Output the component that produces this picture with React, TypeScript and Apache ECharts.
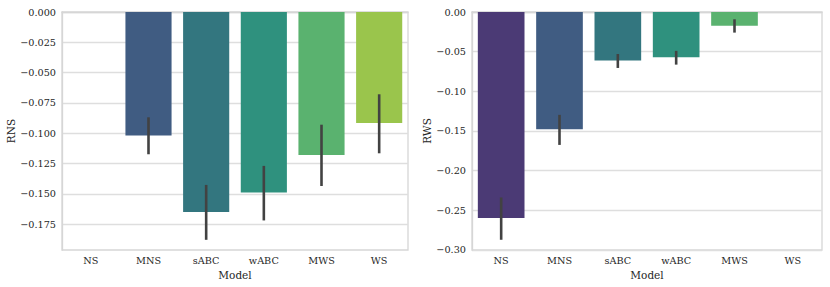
import React, { useEffect, useRef } from "react";
import * as echarts from "echarts";

const categories = ["NS", "MNS", "sABC", "wABC", "MWS", "WS"];
const colors = ["#4b3a75", "#405c82", "#33767f", "#2f917e", "#5ab26f", "#9ac54c"];

const rnsValues = [0, -0.102, -0.165, -0.149, -0.118, -0.0915];
const rnsLow = [0, -0.1174, -0.188, -0.172, -0.1436, -0.1166];
const rnsHigh = [0, -0.0869, -0.1427, -0.127, -0.093, -0.0679];

const rwsValues = [-0.26, -0.148, -0.0613, -0.0572, -0.0172, 0];
const rwsLow = [-0.2874, -0.1677, -0.0706, -0.0664, -0.026, 0];
const rwsHigh = [-0.234, -0.1298, -0.053, -0.049, -0.0092, 0];

const rnsTicks = [0, -0.025, -0.05, -0.075, -0.1, -0.125, -0.15, -0.175];
const rwsTicks = [0, -0.05, -0.1, -0.15, -0.2, -0.25, -0.3];

const FONT = "DejaVu Serif";
const TEXT = "#262626";

function fmt(v: number, d: number) {
  if (Math.abs(v) < 1e-9) return (0).toFixed(d);
  return (v < 0 ? "\u2212" : "") + Math.abs(v).toFixed(d);
}

export default function App() {
  const ref = useRef<HTMLDivElement>(null);
  useEffect(() => {
    document.body.style.margin = "0";
    const chart = echarts.init(ref.current!, null, { renderer: "svg" });
    const grids = [
      { left: 62, top: 12, width: 346, height: 238 },
      { left: 472, top: 12, width: 350, height: 238 },
    ];
    const xAxis = grids.map((_, i) => ({
      type: "category",
      gridIndex: i,
      data: categories,
      name: "Model",
      nameLocation: "middle",
      nameGap: 17,
      nameTextStyle: { fontFamily: FONT, fontSize: 10.5, color: TEXT },
      axisLine: { show: true, lineStyle: { color: "#d6d6d6", width: 1.3 } },
      axisTick: { show: false },
      axisLabel: { fontFamily: FONT, fontSize: 9.7, color: TEXT, margin: 5 },
      splitLine: { show: false },
    }));
    const yDefs = [
      { min: -0.1964, max: 0, ticks: rnsTicks, dec: 3, name: "RNS", gap: 45 },
      { min: -0.3003, max: 0, ticks: rwsTicks, dec: 2, name: "RWS", gap: 36 },
    ];
    const yAxis = yDefs.map((d, i) => ({
      type: "value",
      gridIndex: i,
      min: d.min,
      max: d.max,
      name: d.name,
      nameLocation: "middle",
      nameGap: d.gap,
      nameRotate: 90,
      nameTextStyle: { fontFamily: FONT, fontSize: 10.5, color: TEXT },
      axisLine: { show: true, lineStyle: { color: "#d6d6d6", width: 1.3 } },
      axisTick: { show: false, customValues: d.ticks },
      axisLabel: {
        fontFamily: FONT,
        fontSize: 9.7,
        color: TEXT,
        margin: 6,
        customValues: d.ticks,
        formatter: (v: number) => fmt(v, d.dec),
      },
      splitLine: { show: true, lineStyle: { color: "#dedede", width: 1.4 } },
    }));
    const errSeries = (i: number, lo: number[], hi: number[]) => ({
      type: "custom",
      xAxisIndex: i,
      yAxisIndex: i,
      z: 5,
      silent: true,
      data: categories.map((_, k) => [k, lo[k], hi[k]]),
      encode: { x: 0, y: [1, 2] },
      renderItem: (params: any, api: any) => {
        const x = api.value(0);
        const a = api.coord([x, api.value(1)]);
        const b = api.coord([x, api.value(2)]);
        return {
          type: "line",
          shape: { x1: a[0], y1: a[1], x2: b[0], y2: b[1] },
          style: { stroke: "#424242", lineWidth: 2.6 },
        };
      },
    });
    const barSeries = (i: number, vals: number[]) => ({
      type: "bar",
      xAxisIndex: i,
      yAxisIndex: i,
      barCategoryGap: "20%",
      z: 2,
      data: vals.map((v, k) => ({ value: v, itemStyle: { color: colors[k] } })),
    });
    chart.setOption({
      animation: false,
      backgroundColor: "#ffffff",
      grid: grids.map((g) => ({
        ...g,
        show: true,
        borderColor: "#d6d6d6",
        borderWidth: 1.3,
        backgroundColor: "#ffffff",
      })),
      xAxis,
      yAxis,
      series: [
        barSeries(0, rnsValues),
        errSeries(0, rnsLow, rnsHigh),
        barSeries(1, rwsValues),
        errSeries(1, rwsLow, rwsHigh),
      ],
    });
    return () => chart.dispose();
  }, []);
  return <div ref={ref} style={{ width: 830, height: 287 }} />;
}
